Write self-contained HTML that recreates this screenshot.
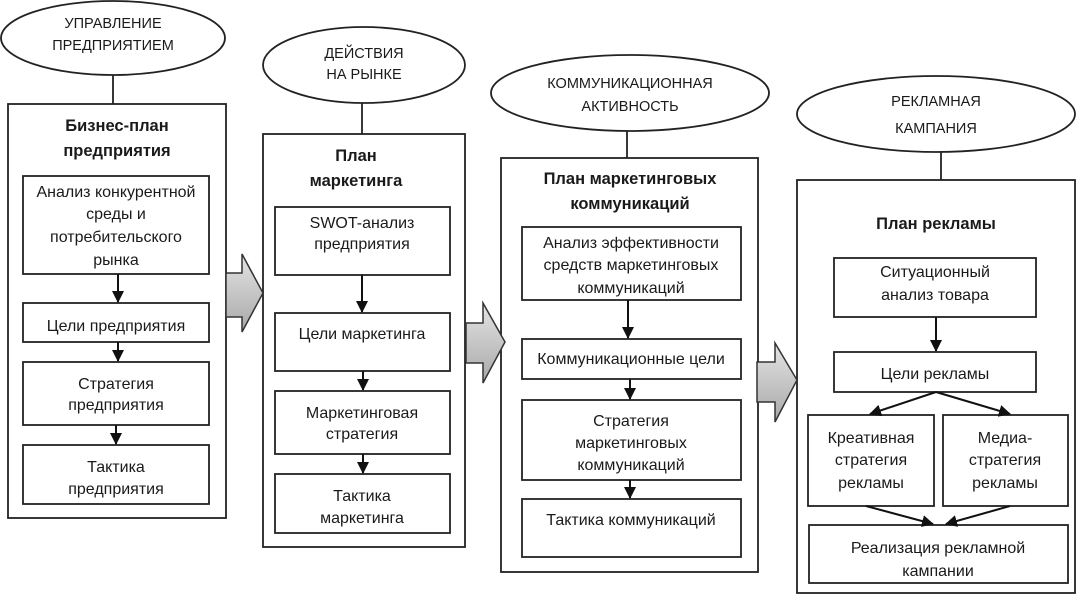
<!DOCTYPE html>
<html><head><meta charset="utf-8"><style>
html,body{margin:0;padding:0;background:#fff;}
svg{display:block;}
text{font-family:"Liberation Sans",sans-serif;font-size:16px;fill:#1a1a1a;text-anchor:middle;}
.t{font-weight:bold;font-size:16.5px;}
.e{font-size:14.5px;}
</style></head><body>
<svg width="1076" height="600" viewBox="0 0 1076 600" xmlns="http://www.w3.org/2000/svg">
<defs>
<linearGradient id="g" x1="0" y1="0" x2="0" y2="1">
<stop offset="0" stop-color="#e4e4e4"/><stop offset="1" stop-color="#a8a8a8"/>
</linearGradient>
<marker id="b" markerWidth="12" markerHeight="12" refX="11" refY="6" orient="auto" markerUnits="userSpaceOnUse">
<path d="M0,0 L12,6 L0,12 z" fill="#111"/></marker>
</defs>
<g fill="none" stroke="#222" stroke-width="1.8">
<ellipse cx="113" cy="38" rx="112" ry="37" fill="#fff"/>
<ellipse cx="364" cy="65" rx="101" ry="38" fill="#fff"/>
<ellipse cx="630" cy="93" rx="139" ry="38" fill="#fff"/>
<ellipse cx="936" cy="114" rx="139" ry="38" fill="#fff"/>
<line x1="113" y1="75" x2="113" y2="104"/>
<line x1="362" y1="103" x2="362" y2="134"/>
<line x1="627" y1="131" x2="627" y2="158"/>
<line x1="941" y1="152" x2="941" y2="180"/>
<rect x="8" y="104" width="218" height="414"/>
<rect x="263" y="134" width="202" height="413"/>
<rect x="501" y="158" width="257" height="414"/>
<rect x="797" y="180" width="278" height="413"/>
<rect x="23" y="176" width="186" height="98"/>
<rect x="23" y="303" width="186" height="39"/>
<rect x="23" y="362" width="186" height="63"/>
<rect x="23" y="445" width="186" height="59"/>
<rect x="275" y="207" width="175" height="68"/>
<rect x="275" y="313" width="175" height="58"/>
<rect x="275" y="391" width="175" height="63"/>
<rect x="275" y="474" width="175" height="59"/>
<rect x="522" y="227" width="219" height="73"/>
<rect x="522" y="339" width="219" height="40"/>
<rect x="522" y="400" width="219" height="80"/>
<rect x="522" y="499" width="219" height="58"/>
<rect x="834" y="258" width="202" height="59"/>
<rect x="834" y="352" width="202" height="40"/>
<rect x="808" y="415" width="126" height="91"/>
<rect x="943" y="415" width="125" height="91"/>
<rect x="809" y="525" width="259" height="58"/>
</g>
<g stroke="#111" stroke-width="2">
<line x1="118" y1="274" x2="118" y2="302" marker-end="url(#b)"/>
<line x1="118" y1="342" x2="118" y2="361" marker-end="url(#b)"/>
<line x1="116" y1="425" x2="116" y2="444" marker-end="url(#b)"/>
<line x1="362" y1="275" x2="362" y2="312" marker-end="url(#b)"/>
<line x1="363" y1="371" x2="363" y2="390" marker-end="url(#b)"/>
<line x1="363" y1="454" x2="363" y2="473" marker-end="url(#b)"/>
<line x1="628" y1="300" x2="628" y2="338" marker-end="url(#b)"/>
<line x1="630" y1="379" x2="630" y2="399" marker-end="url(#b)"/>
<line x1="630" y1="480" x2="630" y2="498" marker-end="url(#b)"/>
<line x1="936" y1="317" x2="936" y2="351" marker-end="url(#b)"/>
<line x1="936" y1="392" x2="870" y2="414" marker-end="url(#b)"/>
<line x1="936" y1="392" x2="1010" y2="414" marker-end="url(#b)"/>
<line x1="866" y1="506" x2="933" y2="524" marker-end="url(#b)"/>
<line x1="1010" y1="506" x2="946" y2="524" marker-end="url(#b)"/>
</g>
<g fill="url(#g)" stroke="#333" stroke-width="1.5">
<path d="M226,273 L242,273 L242,254 L263,293 L242,332 L242,317 L226,317 Z"/>
<path d="M466,323 L483,323 L483,303 L505,342 L483,383 L483,363 L466,363 Z"/>
<path d="M757,362 L775,362 L775,343 L797,380 L775,422 L775,402 L757,402 Z"/>
</g>
<text class="e" x="113" y="28">УПРАВЛЕНИЕ</text>
<text class="e" x="113" y="50">ПРЕДПРИЯТИЕМ</text>
<text class="e" x="364" y="58">ДЕЙСТВИЯ</text>
<text class="e" x="364" y="79">НА РЫНКЕ</text>
<text class="e" x="630" y="88">КОММУНИКАЦИОННАЯ</text>
<text class="e" x="630" y="111">АКТИВНОСТЬ</text>
<text class="e" x="936" y="106">РЕКЛАМНАЯ</text>
<text class="e" x="936" y="133">КАМПАНИЯ</text>

<text class="t" x="117" y="131">Бизнес-план</text>
<text class="t" x="117" y="156">предприятия</text>
<text x="116" y="197">Анализ конкурентной</text>
<text x="116" y="219">среды и</text>
<text x="116" y="242">потребительского</text>
<text x="116" y="265">рынка</text>
<text x="116" y="331">Цели предприятия</text>
<text x="116" y="389">Стратегия</text>
<text x="116" y="410">предприятия</text>
<text x="116" y="472">Тактика</text>
<text x="116" y="494">предприятия</text>

<text class="t" x="356" y="161">План</text>
<text class="t" x="356" y="186">маркетинга</text>
<text x="362" y="228">SWOT-анализ</text>
<text x="362" y="249">предприятия</text>
<text x="362" y="339">Цели маркетинга</text>
<text x="362" y="418">Маркетинговая</text>
<text x="362" y="439">стратегия</text>
<text x="362" y="501">Тактика</text>
<text x="362" y="523">маркетинга</text>

<text class="t" x="630" y="184">План маркетинговых</text>
<text class="t" x="630" y="209">коммуникаций</text>
<text x="631" y="248">Анализ эффективности</text>
<text x="631" y="270">средств маркетинговых</text>
<text x="631" y="293">коммуникаций</text>
<text x="631" y="364">Коммуникационные цели</text>
<text x="631" y="426">Стратегия</text>
<text x="631" y="448">маркетинговых</text>
<text x="631" y="470">коммуникаций</text>
<text x="631" y="525">Тактика коммуникаций</text>

<text class="t" x="936" y="229">План рекламы</text>
<text x="935" y="277">Ситуационный</text>
<text x="935" y="300">анализ товара</text>
<text x="935" y="379">Цели рекламы</text>
<text x="871" y="443">Креативная</text>
<text x="871" y="465">стратегия</text>
<text x="871" y="488">рекламы</text>
<text x="1005" y="443">Медиа-</text>
<text x="1005" y="465">стратегия</text>
<text x="1005" y="488">рекламы</text>
<text x="938" y="553">Реализация рекламной</text>
<text x="938" y="576">кампании</text>
</svg>
</body></html>
